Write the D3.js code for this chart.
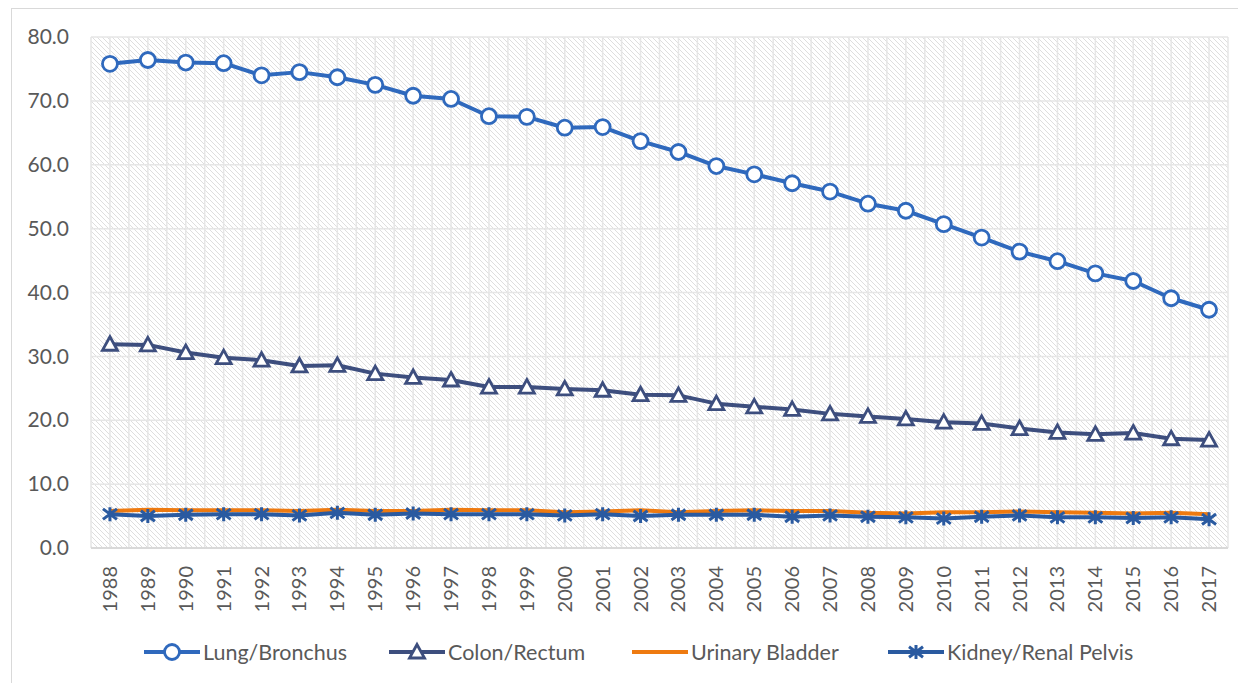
<!DOCTYPE html>
<html>
<head>
<meta charset="utf-8">
<script src="https://cdn.jsdelivr.net/npm/d3@7"></script>
<style>
  body { margin: 0; background: #ffffff; }
</style>
</head>
<body>
<div id="chart"></div>
<script>
let width = 1238;
let height = 683;

let years = d3.range(1988, 2018).map(String);
let yTicks = [0, 10, 20, 30, 40, 50, 60, 70, 80];

let lung = [75.8, 76.4, 76.0, 75.9, 74.0, 74.5, 73.7, 72.5, 70.8, 70.3,
            67.6, 67.5, 65.8, 65.9, 63.7, 62.0, 59.8, 58.5, 57.1, 55.8,
            53.9, 52.8, 50.7, 48.6, 46.4, 44.9, 43.0, 41.8, 39.1, 37.3];
let colon = [31.9, 31.8, 30.6, 29.8, 29.4, 28.5, 28.6, 27.3, 26.7, 26.3,
             25.2, 25.2, 24.9, 24.7, 24.0, 23.9, 22.6, 22.1, 21.7, 21.0,
             20.6, 20.2, 19.7, 19.5, 18.7, 18.1, 17.8, 18.0, 17.1, 16.9];
let bladder = [5.8, 6.0, 5.9, 5.9, 5.9, 5.8, 6.0, 5.8, 5.8, 6.0,
               5.9, 5.9, 5.6, 5.7, 5.9, 5.6, 5.8, 5.9, 5.8, 5.8,
               5.5, 5.4, 5.6, 5.6, 5.7, 5.6, 5.5, 5.4, 5.5, 5.3];
let kidney = [5.3, 5.0, 5.2, 5.3, 5.3, 5.1, 5.5, 5.2, 5.4, 5.3,
              5.3, 5.3, 5.1, 5.3, 5.0, 5.2, 5.2, 5.2, 4.9, 5.1,
              4.9, 4.8, 4.6, 4.9, 5.1, 4.8, 4.8, 4.7, 4.8, 4.5];

let seriesNames = ["Lung/Bronchus", "Colon/Rectum", "Urinary Bladder", "Kidney/Renal Pelvis"];
let seriesValues = [lung, colon, bladder, kidney];
let seriesColors = ["#2f69bd", "#3d4e7e", "#ee7a10", "#2a5aa0"];
let seriesMarkers = ["circle", "triangle", "none", "star"];

let font = "Lato, 'Open Sans', sans-serif";
let textColor = "#595959";

let plot = { left: 91, top: 37, right: 1228, bottom: 548 };

let svg = d3.select("#chart")
  .append("svg")
  .attr("width", width)
  .attr("height", height)
  .style("background-color", "#ffffff");

// hatch pattern for plot background
let defs = svg.append("defs");
let pat = defs.append("pattern")
  .attr("id", "hatch")
  .attr("patternUnits", "userSpaceOnUse")
  .attr("width", 5)
  .attr("height", 5);
pat.append("path")
  .attr("d", "M-1,-1 L6,6 M-1,4 L1,6 M4,-1 L6,1")
  .attr("stroke", "#dedede")
  .attr("stroke-width", 1);

// outer chart border
svg.append("rect")
  .attr("x", 11.5)
  .attr("y", 8.5)
  .attr("width", width + 10)
  .attr("height", height + 10)
  .attr("fill", "none")
  .attr("stroke", "#d9d9d9")
  .attr("stroke-width", 1);

let x = d3.scaleBand()
  .domain(years)
  .range([plot.left, plot.right]);

let y = d3.scaleLinear()
  .domain([0, 80])
  .range([plot.bottom, plot.top]);

svg.append("rect")
  .attr("x", plot.left)
  .attr("y", plot.top)
  .attr("width", plot.right - plot.left)
  .attr("height", plot.bottom - plot.top)
  .attr("fill", "url(#hatch)");

// vertical gridlines at boundaries and centres
let grid = svg.append("g").attr("id", "grid");
let bw = x.bandwidth();
years.forEach(d => {
  [x(d), x(d) + bw / 2].forEach(px => {
    grid.append("line")
      .attr("x1", px).attr("x2", px)
      .attr("y1", plot.top).attr("y2", plot.bottom)
      .attr("stroke", "#e6e6e6")
      .attr("stroke-width", 1.5);
  });
});
grid.append("line")
  .attr("x1", plot.right).attr("x2", plot.right)
  .attr("y1", plot.top).attr("y2", plot.bottom)
  .attr("stroke", "#e6e6e6").attr("stroke-width", 1.5);

grid.selectAll("line.h")
  .data(yTicks)
  .enter()
  .append("line")
  .attr("class", "h")
  .attr("x1", plot.left).attr("x2", plot.right)
  .attr("y1", d => y(d)).attr("y2", d => y(d))
  .attr("stroke", d => d === 0 ? "#d9d9d9" : "#e6e6e6")
  .attr("stroke-width", d => d === 0 ? 2 : 1.5);

// y axis labels
svg.append("g")
  .attr("id", "y-axis")
  .attr("transform", `translate(${plot.left}, 0)`)
  .call(d3.axisLeft(y).tickValues(yTicks).tickFormat(d3.format(".1f")).tickSize(0).tickPadding(22))
  .call(g => g.select(".domain").remove())
  .selectAll("text")
  .attr("fill", textColor)
  .attr("font-size", 21)
  .attr("font-family", font);

// x axis labels
svg.append("g")
  .attr("id", "x-axis")
  .attr("transform", `translate(0, ${plot.bottom})`)
  .call(d3.axisBottom(x).tickSize(0))
  .call(g => g.select(".domain").remove())
  .selectAll("text")
  .attr("fill", textColor)
  .attr("font-size", 20)
  .attr("font-family", font)
  .attr("text-anchor", "end")
  .attr("dy", "0.35em")
  .attr("transform", "translate(0, 18) rotate(-90)")
  .attr("y", 0)
  .attr("x", 0);

let cx = d => x(d) + bw / 2;

let line = d3.line()
  .x((d, i) => cx(years[i]))
  .y(d => y(d));

function drawMarker(g, type, color, px, py) {
  if (type === "circle") {
    g.append("circle")
      .attr("cx", px).attr("cy", py).attr("r", 7.5)
      .attr("fill", "#ffffff").attr("stroke", color).attr("stroke-width", 2.8);
  } else if (type === "triangle") {
    g.append("path")
      .attr("d", `M${px},${py - 7.5} L${px + 7.5},${py + 6} L${px - 7.5},${py + 6} Z`)
      .attr("fill", "#ffffff").attr("stroke", color).attr("stroke-width", 2.8)
      .attr("stroke-linejoin", "miter");
  } else if (type === "star") {
    let s = 7;
    g.append("path")
      .attr("d", `M${px - s},${py - s * 0.75} L${px + s},${py + s * 0.75} M${px - s},${py + s * 0.75} L${px + s},${py - s * 0.75} M${px},${py - s} L${px},${py + s}`)
      .attr("stroke", color).attr("stroke-width", 3).attr("fill", "none");
  }
}

// draw in order so lower series appear right
let drawOrder = [1, 0, 2, 3];
drawOrder.forEach(k => {
  let g = svg.append("g").attr("class", "series");
  g.append("path")
    .datum(seriesValues[k])
    .attr("d", line)
    .attr("fill", "none")
    .attr("stroke", seriesColors[k])
    .attr("stroke-width", 4)
    .attr("stroke-linejoin", "round");
  seriesValues[k].forEach((v, i) => {
    drawMarker(g, seriesMarkers[k], seriesColors[k], cx(years[i]), y(v));
  });
});

// legend
let legendX = [144, 389, 632, 888];
let legendY = 652;
let legend = svg.append("g").attr("id", "legend");
seriesNames.forEach((name, k) => {
  let lx = legendX[k];
  legend.append("line")
    .attr("x1", lx).attr("x2", lx + 56)
    .attr("y1", legendY).attr("y2", legendY)
    .attr("stroke", seriesColors[k])
    .attr("stroke-width", 4);
  drawMarker(legend, seriesMarkers[k], seriesColors[k], lx + 28, legendY);
  legend.append("text")
    .attr("x", lx + 59)
    .attr("y", legendY)
    .attr("dy", "0.35em")
    .attr("fill", textColor)
    .attr("font-size", 21.5)
    .attr("font-family", font)
    .text(name);
});
</script>
</body>
</html>
